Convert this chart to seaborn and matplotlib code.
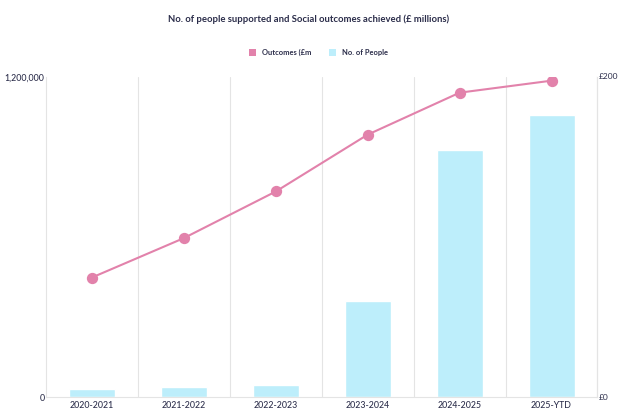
import matplotlib
matplotlib.use("Agg")
import matplotlib.pyplot as plt
import seaborn as sns
import pandas as pd
from matplotlib.patches import Patch
from matplotlib.ticker import FixedLocator

categories = ["2020-2021", "2021-2022", "2022-2023", "2023-2024", "2024-2025", "2025-YTD"]
people = [30000, 37500, 47000, 362000, 927000, 1058000]
outcomes = [74.8, 99.4, 128.5, 164.0, 190.2, 197.7]
left_ticks = [0, 1200000]
left_labels = ["0", "1,200,000"]
right_ticks = [0, 200]
right_labels = ["£0", "£200m"]

df = pd.DataFrame({"cat": categories, "people": people, "outcomes": outcomes})

sns.set_theme(style="white")
plt.rcParams["font.family"] = ["Lato", "DejaVu Sans"]

bar_color = "#bdeefb"
line_color = "#e282ab"
text_color = "#2b2d4a"
grid_color = "#e4e4e4"

fig = plt.figure(figsize=(6.18, 4.11), dpi=100)
ax = fig.add_axes([0.0744, 0.0333, 0.8924, 0.7794])

sns.barplot(data=df, x="cat", y="people", color=bar_color, width=0.5,
            saturation=1, ax=ax, zorder=2)
ax.set_xlim(-0.5, 5.5)
ax.set_ylim(0, 1200000)
ax.set_yticks(left_ticks)
ax.set_yticklabels(left_labels)
ax.set_xlabel("")
ax.set_ylabel("")
ax.xaxis.set_minor_locator(FixedLocator([0.5, 1.5, 2.5, 3.5, 4.5]))
ax.grid(which="minor", axis="x", color=grid_color, linewidth=0.8, zorder=0)
ax.tick_params(axis="both", which="both", length=0, labelsize=6.3, colors=text_color)
ax.tick_params(axis="x", pad=3)
ax.tick_params(axis="y", pad=1)
ax.spines["top"].set_visible(False)
for s in ["left", "right", "bottom"]:
    ax.spines[s].set_color(grid_color)
    ax.spines[s].set_linewidth(0.8)
for lbl in ax.get_xticklabels() + ax.get_yticklabels():
    lbl.set_fontweight("medium")

ax2 = ax.twinx()
sns.pointplot(data=df, x="cat", y="outcomes", color=line_color, ax=ax2,
              markers="o", linewidth=1.5, markersize=7, zorder=3)
ax2.set_xlim(-0.5, 5.5)
ax2.set_ylim(0, 200)
ax2.set_yticks(right_ticks)
ax2.set_yticklabels(right_labels)
ax2.set_ylabel("")
ax2.set_xlabel("")
ax2.tick_params(axis="y", length=0, labelsize=6.0, colors=text_color, pad=1)
for s in ["top", "left", "bottom"]:
    ax2.spines[s].set_visible(False)
ax2.spines["right"].set_color(grid_color)
ax2.spines["right"].set_linewidth(0.8)
for lbl in ax2.get_yticklabels():
    lbl.set_verticalalignment("center")

fig.text(0.5, 0.953, "No. of people supported and Social outcomes achieved (£ millions)",
         ha="center", va="center", fontsize=6.8, fontweight="bold", color=text_color)

handles = [Patch(facecolor=line_color, edgecolor="none", label="Outcomes (£m"),
           Patch(facecolor=bar_color, edgecolor="none", label="No. of People")]
fig.legend(handles=handles, loc="center", bbox_to_anchor=(0.515, 0.872), ncol=2,
           frameon=False, handlelength=0.9, handleheight=0.9,
           columnspacing=2.4, handletextpad=0.8,
           prop={"weight": "bold", "size": 5.4}, labelcolor=text_color)

fig.savefig("out.png", dpi=100)
